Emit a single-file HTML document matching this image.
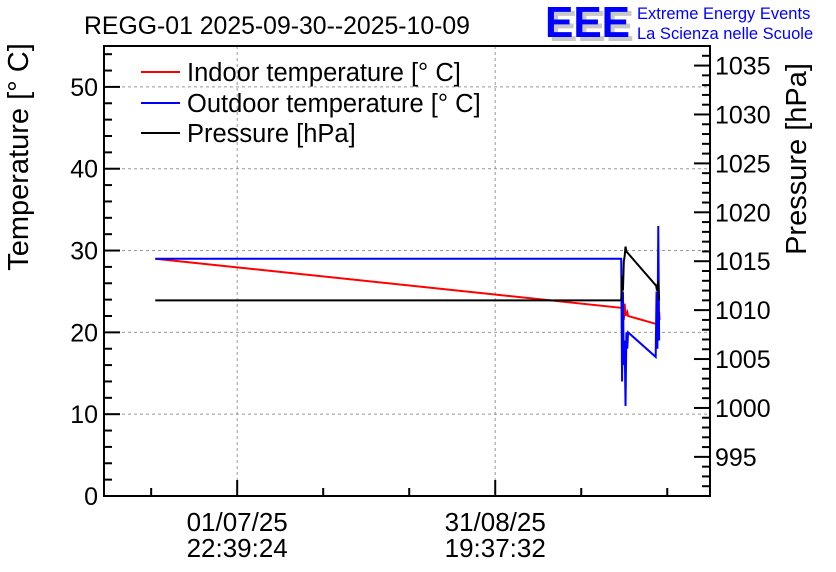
<!DOCTYPE html>
<html><head><meta charset="utf-8"><style>
html,body{margin:0;padding:0;background:#fff;}
svg{display:block;font-family:"Liberation Sans",sans-serif;}
</style></head><body>
<svg id="chart" width="836" height="572" viewBox="0 0 836 572">
<text x="84" y="34" font-size="24.8">REGG-01 2025-09-30--2025-10-09</text>
<g>
<text x="549" y="41" font-size="44" font-weight="bold" fill="#c8c8c8" textLength="85" lengthAdjust="spacingAndGlyphs">EEE</text>
<text x="545" y="37" font-size="44" font-weight="bold" fill="#0000ff" textLength="85" lengthAdjust="spacingAndGlyphs">EEE</text>
<text x="637" y="19" font-size="16.5" fill="#0000ff">Extreme Energy Events</text>
<text x="637" y="39" font-size="16.5" fill="#0000ff">La Scienza nelle Scuole</text>
</g>
<g id="grid"></g>
<g id="series"></g>
<g id="axes"></g>
<text transform="translate(28,157) rotate(-90)" text-anchor="middle" font-size="29">Temperature [° C]</text>
<text transform="translate(806,159) rotate(-90)" text-anchor="middle" font-size="29">Pressure [hPa]</text>
<g>
<line x1="141" y1="72" x2="180" y2="72" stroke="#ff0000" stroke-width="2"/>
<text x="187" y="81" font-size="25.5">Indoor temperature [° C]</text>
<line x1="141" y1="103" x2="180" y2="103" stroke="#0000ff" stroke-width="2"/>
<text x="187" y="112" font-size="25.5">Outdoor temperature [° C]</text>
<line x1="141" y1="133" x2="180" y2="133" stroke="#000" stroke-width="2"/>
<text x="187" y="142" font-size="25.5">Pressure [hPa]</text>
</g>
</svg>
<script>
// days relative to 01/07/25 22:39:24
const indoorDays = [-19.0, 89.1, 89.5, 89.7, 89.9, 90.1, 90.5, 90.7, 97.4, 97.7, 97.9, 98.0];
const indoorTemp = [29.0, 23.0, 24.0, 21.5, 23.5, 22.0, 22.5, 22.0, 21.0, 21.0, 22.5, 21.5];
const outdoorDays = [-19.0, 89.1, 89.3, 89.5, 89.7, 89.9, 90.1, 90.3, 90.5, 90.7, 97.1, 97.3, 97.5, 97.7, 97.9];
const outdoorTemp = [29.0, 29.0, 14.0, 25.0, 16.0, 19.0, 11.0, 20.0, 18.0, 20.0, 17.0, 25.0, 18.0, 33.0, 19.0];
const pressDays = [-19.0, 89.1, 89.3, 89.5, 89.7, 89.9, 90.1, 90.3, 97.2, 97.4, 97.7, 97.9];
const pressVal = [1011.0, 1011.0, 1013.5, 1012.0, 1015.0, 1015.5, 1016.5, 1016.0, 1012.5, 1012.0, 1013.0, 1011.0];
const tempTicks = [0, 10, 20, 30, 40, 50];
const pressTicks = [995, 1000, 1005, 1010, 1015, 1020, 1025, 1030, 1035];
const timeTickDays = [0, 59.87];
const timeTickLabels = [["01/07/25","22:39:24"],["31/08/25","19:37:32"]];

const L=104,R=710,T=46,B=496;
const dMin=-30.9, dMax=109.7;
const X=d=>L+(d-dMin)/(dMax-dMin)*(R-L);
const Y=v=>B-v/55*(B-T);
const Y2=p=>B-(p-991)/46*(B-T);
const NS="http://www.w3.org/2000/svg";
function mk(tag,attrs,parent){const e=document.createElementNS(NS,tag);for(const k in attrs)e.setAttribute(k,attrs[k]);parent.appendChild(e);return e;}
const grid=document.getElementById('grid'),series=document.getElementById('series'),axes=document.getElementById('axes');

tempTicks.forEach(v=>{const g=mk('line',{x1:L,x2:R,y1:Y(v),y2:Y(v),stroke:'#999','stroke-dasharray':'3,3','stroke-width':1},grid);

});
timeTickDays.forEach(d=>{const g=mk('line',{x1:X(d),x2:X(d),y1:T,y2:B,stroke:'#999','stroke-dasharray':'3,3','stroke-width':1},grid);

});

function line(xs,ys,fy,color,name){const p=mk('polyline',{points:xs.map((d,i)=>X(d)+','+fy(ys[i])).join(' '),fill:'none',stroke:color,'stroke-width':2},series);

}
line(indoorDays,indoorTemp,Y,'#ff0000','indoor-temperature-line');
line(outdoorDays,outdoorTemp,Y,'#0000ff','outdoor-temperature-line');
line(pressDays,pressVal,Y2,'#000000','pressure-line');

const fr=mk('rect',{x:L,y:T,width:R-L,height:B-T,fill:'none',stroke:'#000','stroke-width':2},axes);


for(let v=0;v<=55;v+=2){const len=v%10===0?16:8;mk('line',{x1:L,x2:L+len,y1:Y(v),y2:Y(v),stroke:'#000','stroke-width':2},axes);}
tempTicks.forEach(v=>{const t=mk('text',{x:L-6,y:Y(v)+9,'text-anchor':'end','font-size':25},axes);t.textContent=v;

});
for(let p=992;p<=1037;p++){const len=p%5===0?16:8;mk('line',{x1:R,x2:R-len,y1:Y2(p),y2:Y2(p),stroke:'#000','stroke-width':2},axes);}
pressTicks.forEach(p=>{const t=mk('text',{x:R+5,y:Y2(p)+9,'font-size':25},axes);t.textContent=p;

});
const step=timeTickDays[1]/3;
for(let k=-1;k<=7;k++){const d=k*step;if(X(d)<L||X(d)>R)continue;const len=k%3===0?16:8;mk('line',{x1:X(d),x2:X(d),y1:B,y2:B-len,stroke:'#000','stroke-width':2},axes);}
timeTickDays.forEach((d,i)=>{timeTickLabels[i].forEach((s,j)=>{const t=mk('text',{x:X(d),y:531+j*26,'text-anchor':'middle','font-size':26},axes);t.textContent=s;

});});
</script>
</body></html>
